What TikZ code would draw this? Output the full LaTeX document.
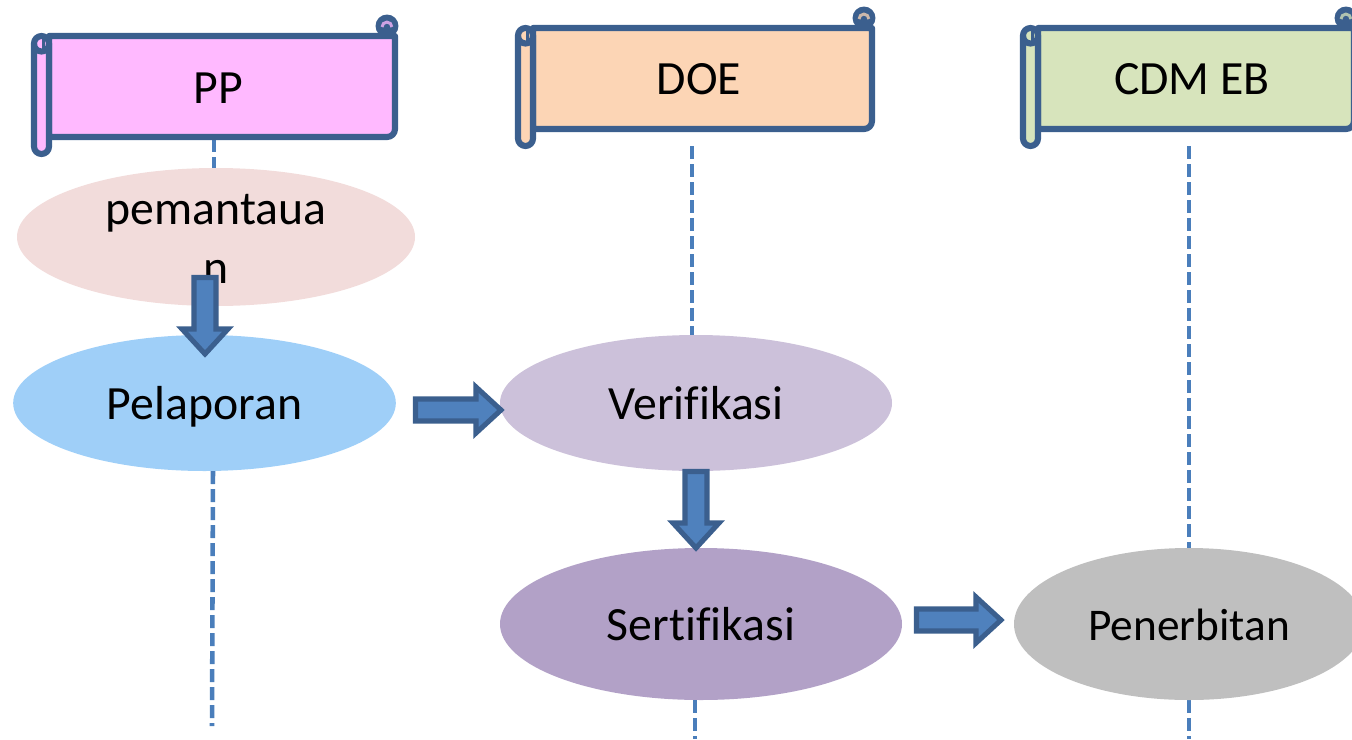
\documentclass[tikz,border=0pt]{standalone}
\usepackage{fontspec}
\setmainfont[Ligatures=NoCommon,Contextuals=NoAlternate]{Carlito}
\usetikzlibrary{shapes.geometric}
\definecolor{scrollline}{HTML}{3B5F8E}
\definecolor{arrowfill}{HTML}{4F81BD}
\definecolor{lifeline}{HTML}{4A7EBB}
\definecolor{monfill}{HTML}{F2DCDB}
\definecolor{repfill}{HTML}{9FCFF8}
\definecolor{verfill}{HTML}{CCC1DA}
\definecolor{serfill}{HTML}{B2A1C7}
\definecolor{penfill}{HTML}{BFBFBF}
\definecolor{ppfill}{HTML}{FFB9FF}
\definecolor{doefill}{HTML}{FCD5B5}
\definecolor{cdmfill}{HTML}{D7E4BC}
\tikzset{
  x=0.75pt,y=-0.75pt,
  life/.style={draw=lifeline,line width=3.4pt,dash pattern=on 9.75pt off 3.75pt},
  bubble/.style={ellipse,inner sep=0pt,font=\fontsize{35.8}{44.25}\selectfont,text=black,align=center,text height=24pt,text depth=0pt},
  bubbleplain/.style={ellipse,inner sep=0pt},
  wrapped/.style={inner sep=0pt,font=\fontsize{35.8}{44.25}\selectfont,text=black,align=center},
  scrolllabel/.style={inner sep=0pt,anchor=base,font=\fontsize{35.8}{44.25}\selectfont,text=black},
  scrollpart/.style={draw=scrollline,line width=4.6pt,line join=round},
  blockarrow/.style={draw=scrollline,fill=arrowfill,line width=3.8pt,line join=miter}
}
% #1 outer left x, #2 outer right x, #3 outer top y, #4 outer body bottom y, #5 colour
\newcommand{\scrollshape}[5]{%
  \pgfmathsetmacro{\xa}{#1+3}\pgfmathsetmacro{\xb}{#1+18}
  \pgfmathsetmacro{\xc}{#2-3}\pgfmathsetmacro{\ya}{#3+3}
  \pgfmathsetmacro{\yb}{#4-3}\pgfmathsetmacro{\yc}{#4+14}
  \pgfmathsetmacro{\xm}{#1+10.5}\pgfmathsetmacro{\cx}{#2-11}
  \pgfmathsetmacro{\cy}{#3-7}
  \draw[scrollpart,fill=#5] (\xb,\ya) -- (\xc,\ya) -- (\xc,\yb-8) arc[start angle=0,end angle=-90,radius=6pt] -- (\xb,\yb) -- cycle;
  \draw[scrollpart,fill=#5] (\xa,\ya+7.5) arc[start angle=180,end angle=0,radius=5.625pt] -- (\xb,\yc-7.5) arc[start angle=0,end angle=-180,radius=5.625pt] -- cycle;
  \draw[scrollpart] (\xa,\ya+8) arc[start angle=-180,end angle=0,radius=5.625pt];
  \draw[scrollline,line width=2pt] (\xm+2,\ya+3) -- (\xm+2,\ya+13);
  \fill[scrollline] (\cx,\cy) circle[radius=8.6pt];
  \draw[#5!75!scrollline,line width=2.2pt] (\cx-5,\cy+1) arc[start angle=180,end angle=0,radius=3.7pt];
}
% right arrow: #1 left x, #2 tip x, #3 mid y; down arrow: #1 mid x, #2 top y, #3 tip y
\newcommand{\rightblock}[3]{%
  \draw[blockarrow] (#1+2.5,#3-11) -- (#2-28,#3-11) -- (#2-28,#3-23) -- (#2-3,#3) -- (#2-28,#3+23) -- (#2-28,#3+11) -- (#1+2.5,#3+11) -- cycle;
}
\newcommand{\downblock}[3]{%
  \draw[blockarrow] (#1-11,#2+2.5) -- (#1-11,#3-28) -- (#1-23,#3-28) -- (#1,#3-3) -- (#1+23,#3-28) -- (#1+11,#3-28) -- (#1+11,#2+2.5) -- cycle;
}
\begin{document}
\begin{tikzpicture}
\useasboundingbox (0,0) rectangle (1352,739);
% lifeline end points
\coordinate (ppA) at (214,139);
\coordinate (ppB) at (214,170);
\coordinate (ppC) at (213,471);
\coordinate (ppD) at (212,726);
\coordinate (doeA) at (692,146);
\coordinate (doeB) at (692,336);
\coordinate (doeC) at (695,700);
\coordinate (doeD) at (695,739);
\coordinate (cdmA) at (1189,146);
\coordinate (cdmB) at (1189,548);
\coordinate (cdmC) at (1189,700);
\coordinate (cdmD) at (1189,739);
\draw[life] (ppA) -- (ppB);
\draw[life] (ppC) -- (ppD);
\draw[life] (doeA) -- (doeB);
\draw[life] (doeC) -- (doeD);
\draw[life] (cdmA) -- (cdmB);
\draw[life] (cdmC) -- (cdmD);
% scrolls
\scrollshape{31}{398}{33}{140}{ppfill}
\scrollshape{515}{875}{25}{132}{doefill}
\scrollshape{1020}{1357}{25}{132}{cdmfill}
\node[scrolllabel] (pp) at (218,103) {PP};
\node[scrolllabel] (doe) at (699,94) {DOE};
\node[scrolllabel] (cdm) at (1192,94) {CDM EB};
% activities
\node[bubbleplain,fill=monfill,minimum width=298.5pt,minimum height=103.5pt] (mon) at (216,237) {};
\node[wrapped] (montext) at (216,238.5) {pemantaua\\n};
\node[bubble,fill=repfill,minimum width=287pt,minimum height=102pt] (rep) at (204.5,403) {Pelaporan};
\node[bubble,fill=verfill,minimum width=294pt,minimum height=102pt] (ver) at (696,403) {Verifikasi};
\node[bubble,fill=serfill,minimum width=301.5pt,minimum height=114pt] (ser) at (701,624) {Sertifikasi};
\node[bubble,fill=penfill,minimum width=262.5pt,minimum height=114pt,font=\fontsize{34}{42}\selectfont] (pen) at (1189,624) {Penerbitan};
% block arrows
\downblock{205}{275}{357}
\rightblock{413}{504}{410}
\downblock{696}{469}{551}
\rightblock{914}{1004}{620}
\end{tikzpicture}
\end{document}
